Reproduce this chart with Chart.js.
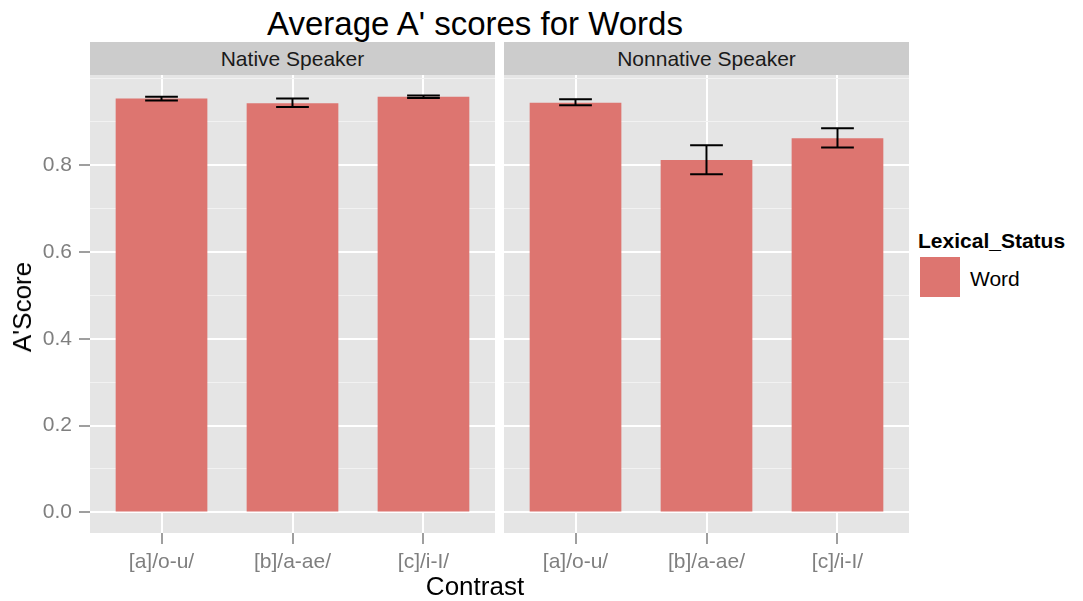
<!DOCTYPE html>
<html>
<head>
<meta charset="utf-8">
<script src="https://cdn.jsdelivr.net/npm/chart.js@4"></script>
<style>
  body { margin: 0; background: #fff; font-family: "Liberation Sans", Arial, sans-serif; }
  #wrap { position: relative; width: 1083px; height: 601px; overflow: hidden; }
  canvas { position: absolute; }
  .txt { position: absolute; white-space: nowrap; line-height: 1; }
  .strip { position: absolute; top: 42px; height: 33px; width: 405px; background: #cccccc;
           color: #1a1a1a; font-size: 21px; display: flex; align-items: center; justify-content: center; }
</style>
</head>
<body>
<div id="wrap">
  <div class="txt" id="title" style="left:475px; top:7px; font-size:33px; transform:translateX(-50%);">Average A' scores for Words</div>
  <div class="strip" id="strip1" style="left:90px;"></div>
  <div class="strip" id="strip2" style="left:504px;"></div>
  <canvas id="panel1" width="497" height="545" style="left:0; top:55px;"></canvas>
  <canvas id="panel2" width="405" height="545" style="left:504px; top:55px;"></canvas>
  <div class="txt" style="left:475px; top:573px; font-size:26px; transform:translateX(-50%);">Contrast</div>
  <div class="txt" style="left:22px; top:307px; font-size:26px; transform:translate(-50%,-50%) rotate(-90deg);">A'Score</div>
  <div class="txt" style="left:918px; top:230px; font-size:21px; font-weight:bold;">Lexical_Status</div>
  <div id="swatch" style="position:absolute; left:920px; top:257px; width:40px; height:40px;"></div>
  <div class="txt" style="left:970px; top:268px; font-size:21px;">Word</div>
</div>
<script>
// data
const categories = ["[a]/o-u/", "[b]/a-ae/", "[c]/i-I/"];
const panelNames = ["Native Speaker", "Nonnative Speaker"];
const nativeMean = [0.954, 0.943, 0.958];
const nativeLow = [0.949, 0.934, 0.955];
const nativeHigh = [0.958, 0.954, 0.961];
const nonnativeMean = [0.944, 0.812, 0.862];
const nonnativeLow = [0.938, 0.779, 0.841];
const nonnativeHigh = [0.952, 0.846, 0.885];
const yMajorTicks = [0, 0.2, 0.4, 0.6, 0.8];
const yMinorTicks = [0.1, 0.3, 0.5, 0.7, 0.9, 1.0];
const barColor = "#dd7570";

Chart.defaults.font.family = "'Liberation Sans', Arial, sans-serif";

document.getElementById("strip1").textContent = panelNames[0];
document.getElementById("strip2").textContent = panelNames[1];
document.getElementById("swatch").style.background = barColor;

const panelBg = {
  id: "panelBg",
  beforeDraw(chart) {
    const a = chart.chartArea;
    chart.ctx.save();
    chart.ctx.fillStyle = "#e5e5e5";
    chart.ctx.fillRect(a.left, a.top, a.right - a.left, a.bottom - a.top);
    chart.ctx.restore();
  }
};

const errorBars = {
  id: "errorBars",
  afterDatasetsDraw(chart, args, opts) {
    const { ctx } = chart;
    const x = chart.scales.x, y = chart.scales.y;
    ctx.save();
    ctx.strokeStyle = "#000";
    ctx.lineWidth = 2;
    opts.lows.forEach((lo, i) => {
      const cx = x.getPixelForValue(i + 1);
      const half = x.getPixelForValue(i + 1.125) - cx;
      const yl = y.getPixelForValue(lo);
      const yh = y.getPixelForValue(opts.highs[i]);
      ctx.beginPath();
      ctx.moveTo(cx, yl); ctx.lineTo(cx, yh);
      ctx.moveTo(cx - half, yl); ctx.lineTo(cx + half, yl);
      ctx.moveTo(cx - half, yh); ctx.lineTo(cx + half, yh);
      ctx.stroke();
    });
    ctx.restore();
  }
};

function isMajor(v) {
  return yMajorTicks.some(m => Math.abs(m - v) < 1e-9);
}

function makePanel(id, means, lows, highs, showY) {
  return new Chart(document.getElementById(id), {
    type: "bar",
    data: {
      datasets: [{
        label: "Word",
        data: means.map((v, i) => ({ x: i + 1, y: v })),
        backgroundColor: barColor,
        borderWidth: 0,
        barPercentage: 0.7,
        categoryPercentage: 1.0
      }]
    },
    options: {
      responsive: false,
      animation: false,
      layout: { padding: { top: 20, right: showY ? 2 : 0, left: 0, bottom: 0 } },
      plugins: {
        legend: { display: false },
        tooltip: { enabled: false },
        errorBars: { lows: lows, highs: highs }
      },
      scales: {
        x: {
          type: "linear",
          offset: false,
          min: 0.454,
          max: 3.546,
          afterBuildTicks: s => { s.ticks = categories.map((c, i) => ({ value: i + 1 })); },
          afterFit: s => { s.height = 67; },
          ticks: {
            callback: v => categories[v - 1],
            color: "#7f7f7f",
            font: { size: 21 },
            padding: 6,
            maxRotation: 0
          },
          grid: { offset: false, color: "#ffffff", lineWidth: 2, tickColor: "#7f7f7f", tickLength: 11, tickWidth: 1.5 },
          border: { display: false }
        },
        y: {
          min: -0.0475,
          max: 1.008,
          afterBuildTicks: s => {
            s.ticks = yMajorTicks.concat(yMinorTicks).sort((a, b) => a - b).map(v => ({ value: v }));
          },
          afterFit: s => { s.width = showY ? 90 : 0; },
          ticks: {
            display: showY,
            callback: v => isMajor(v) ? v.toFixed(1) : "",
            color: "#7f7f7f",
            font: { size: 21 },
            padding: 7
          },
          grid: {
            drawTicks: showY,
            tickLength: 11,
            color: c => isMajor(c.tick.value) ? "#ffffff" : "#f2f2f2",
            lineWidth: c => isMajor(c.tick.value) ? 2 : 1,
            tickColor: c => isMajor(c.tick.value) ? "#7f7f7f" : "rgba(0,0,0,0)",
            tickWidth: 1.5
          },
          border: { display: false }
        }
      }
    },
    plugins: [panelBg, errorBars]
  });
}

makePanel("panel1", nativeMean, nativeLow, nativeHigh, true);
makePanel("panel2", nonnativeMean, nonnativeLow, nonnativeHigh, false);
</script>
</body>
</html>
